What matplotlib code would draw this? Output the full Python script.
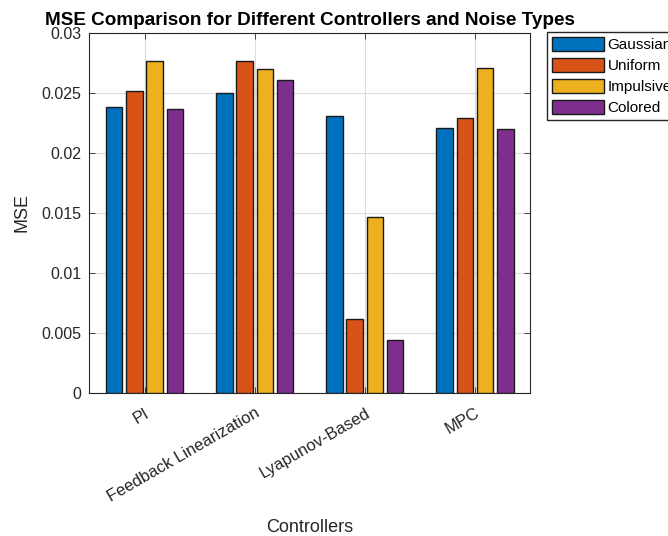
import numpy as np
import matplotlib
matplotlib.use('Agg')
import matplotlib.pyplot as plt
from matplotlib.ticker import FuncFormatter

controllers = ['PI', 'Feedback Linearization', 'Lyapunov-Based', 'MPC']
noise_types = ['Gaussian', 'Uniform', 'Impulsive', 'Colored']
gaussian = [0.0238, 0.0250, 0.0231, 0.0221]
uniform = [0.0252, 0.0277, 0.0062, 0.0229]
impulsive = [0.0277, 0.0270, 0.0147, 0.0271]
colored = [0.0237, 0.0261, 0.0044, 0.0220]

colors = ['#0072BD', '#D95319', '#EDB120', '#7E2F8E']

plt.rcParams['font.family'] = ['Liberation Sans', 'DejaVu Sans']

fig = plt.figure(figsize=(6.68, 5.36), dpi=100)
ax = fig.add_axes([89.5/668, 1 - 393/536, 440.5/668, 360/536])

x = np.arange(1, len(controllers) + 1)
w = 0.15
offsets = [-0.276, -0.092, 0.092, 0.276]
series = [gaussian, uniform, impulsive, colored]
for s, off, c, lab in zip(series, offsets, colors, noise_types):
    ax.bar(x + off, s, width=w, color=c, edgecolor='#1a1a1a', linewidth=1.0,
           label=lab, zorder=3)

ax.set_xlim(0.5, 4.5)
ax.set_ylim(0, 0.03)
ax.set_yticks(np.arange(0, 0.0301, 0.005))
ax.yaxis.set_major_formatter(FuncFormatter(lambda v, p: f'{v:g}'))
ax.set_xticks(x)
ax.set_xticklabels(controllers, rotation=30, ha='right', rotation_mode='anchor')
ax.tick_params(direction='in', top=True, right=True, labelsize=11.5,
               colors='#262626', length=4, width=0.6)
ax.tick_params(axis='x', labelsize=12, pad=9)
ax.tick_params(axis='y', pad=6)
for sp in ax.spines.values():
    sp.set_color('#262626')
    sp.set_linewidth(0.8)
ax.grid(True, color='#dcdcdc', linewidth=0.8, zorder=0)
ax.set_axisbelow(True)

ax.set_xlabel('Controllers', fontsize=13, color='#262626', labelpad=10)
ax.set_ylabel('MSE', fontsize=13, color='#262626', labelpad=8)
ax.set_title('MSE Comparison for Different Controllers and Noise Types',
             fontsize=13.6, fontweight='bold', pad=6)

fig.legend(loc='upper left', bbox_to_anchor=(547/668, 1 - 32/536),
           fontsize=11, frameon=True, fancybox=False, edgecolor='#262626',
           framealpha=1, handlelength=3.4, handleheight=1.1,
           handletextpad=0.26, labelspacing=0.36, borderpad=0.3,
           borderaxespad=0)

fig.savefig('out.png', dpi=100)
